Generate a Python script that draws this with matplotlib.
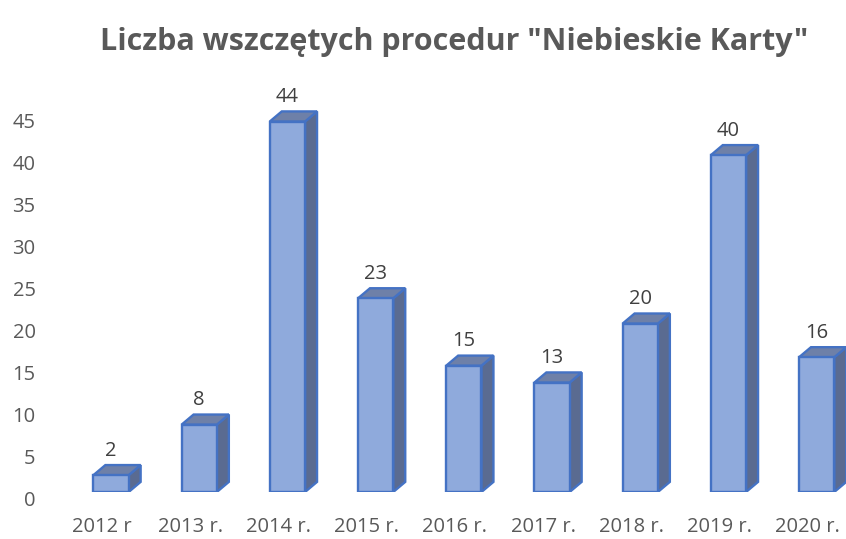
import matplotlib.pyplot as plt
from matplotlib.patches import Polygon, Rectangle
from matplotlib.transforms import ScaledTranslation

plt.rcParams['font.family'] = ['Open Sans', 'DejaVu Sans']

# dane
lata = ['2012 r', '2013 r.', '2014 r.', '2015 r.', '2016 r.', '2017 r.', '2018 r.', '2019 r.', '2020 r.']
liczba = [2, 8, 44, 23, 15, 13, 20, 40, 16]

kolor_przod = '#8FAADC'
kolor_bok = '#5A6B91'
kolor_gora = '#6E80A8'
kolor_kraw = '#4472C4'

fig = plt.figure(figsize=(8.46, 5.39), dpi=100)
ax = fig.add_axes([55 / 846, 47 / 539, 791 / 846, 421 / 539])
ax.set_xlim(-0.635, 8.333)
ax.set_ylim(0, 50)

szer = 0.4
dx = 0.136  # głębokość w osi x
dy = 1.2    # głębokość w osi y

for i, v in enumerate(liczba):
    x0 = i - szer / 2
    x1 = i + szer / 2
    # bok
    ax.add_patch(Polygon([(x1, 0), (x1 + dx, dy), (x1 + dx, v + dy), (x1, v)],
                         closed=True, facecolor=kolor_bok, edgecolor=kolor_kraw, lw=1.7, zorder=2))
    # góra
    ax.add_patch(Polygon([(x0, v), (x0 + dx, v + dy), (x1 + dx, v + dy), (x1, v)],
                         closed=True, facecolor=kolor_gora, edgecolor=kolor_kraw, lw=1.7, zorder=2))
    # przód
    ax.add_patch(Rectangle((x0, 0), szer, v, facecolor=kolor_przod, edgecolor=kolor_kraw,
                           lw=1.7, zorder=3))
    ax.annotate(str(v), (i, v + dy), xytext=(0, 3), textcoords='offset points',
                ha='center', va='bottom', fontsize=14.5, color='#404040')

ax.set_yticks(range(0, 50, 5))
ax.set_xticks([i - 0.1 for i in range(len(lata))])
ax.set_xticklabels(lata)
ax.tick_params(axis='y', length=0, pad=14, labelsize=14.5, labelcolor='#595959')
ax.tick_params(axis='x', length=0, pad=18, labelsize=14.5, labelcolor='#595959')
for lab in ax.get_yticklabels():
    lab.set_transform(lab.get_transform() + ScaledTranslation(0, -5 / 72, fig.dpi_scale_trans))

for s in ax.spines.values():
    s.set_visible(False)

fig.text(454 / 846, 1 - 42 / 539, 'Liczba wszczętych procedur "Niebieskie Karty"',
         ha='center', va='center', fontsize=22, fontweight='bold', color='#595959')

fig.savefig('out.png', dpi=100)
